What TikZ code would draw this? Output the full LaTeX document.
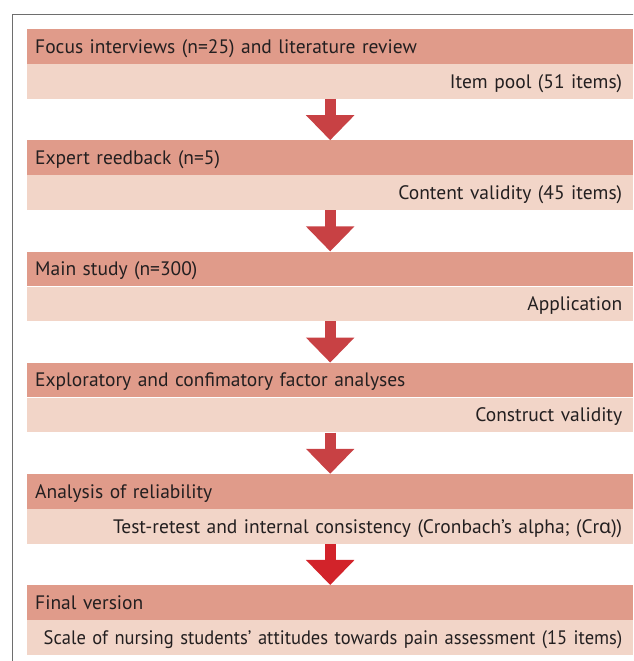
\documentclass[tikz,border=0pt]{standalone}
\usepackage{fontspec}
\setmainfont{PT Sans}
\newfontfamily\narrowfont[FakeStretch=0.95]{PT Sans}
\newfontfamily\grkfont{Noto Sans}
\usetikzlibrary{arrows.meta}
\definecolor{banddark}{HTML}{E09B8A}
\definecolor{bandlight}{HTML}{F2D5C8}
\definecolor{arrowred}{HTML}{C84144}
\definecolor{arrowbright}{HTML}{D2232A}
\definecolor{framegray}{HTML}{6E6E6E}
\definecolor{txt}{HTML}{231F20}
\tikzset{
  band/.style={anchor=north west, minimum height=34.6pt, inner ysep=0pt,
    text height=13.6pt, text depth=0pt,
    text=txt, font=\fontsize{19.5}{22}\selectfont},
  darkband/.style={band, fill=banddark, text width=590pt, inner xsep=8pt, align=left},
  lightband/.style={band, fill=bandlight, text width=584pt, inner xsep=11pt, align=right},
  bigarrow/.style={draw=arrowred, line width=11pt, line cap=butt,
    -{Triangle[width=47pt,length=25pt]}},
}
\begin{document}
\begin{tikzpicture}[x=1pt,y=1pt]
\useasboundingbox (0,0) rectangle (633,661);
\clip (0,0) rectangle (633,661);
\draw[framegray, line width=1.5pt] (12.5,646.5) rectangle (660,-20);
\node[darkband]  (d1) at (27,632)   {Focus interviews (n=25) and literature review};
\node[lightband] (l1) at (d1.south west) {Item pool (51 items)};
\node[darkband]  (d2) at (27,520.8) {Expert reedback (n=5)};
\node[lightband] (l2) at (d2.south west) {Content validity (45 items)};
\node[darkband]  (d3) at (27,409.6) {Main study (n=300)};
\node[lightband] (l3) at (d3.south west) {Application};
\node[darkband]  (d4) at (27,298.4) {Exploratory and confimatory factor analyses};
\node[lightband] (l4) at (d4.south west) {Construct validity};
\node[darkband]  (d5) at (27,187.2) {Analysis of reliability};
\node[lightband] (l5) at (d5.south west) {Test-retest and internal consistency (Cronbach’s alpha; (Cr{\grkfont α}))};
\node[darkband]  (d6) at (27,76)    {Final version};
\node[lightband] (l6) at (d6.south west) {\mbox{\narrowfont Scale of nursing students’ attitudes towards pain assessment (15 items)}};
\draw[bigarrow] (l1.south) -- (d2.north);
\draw[bigarrow] (l2.south) -- (d3.north);
\draw[bigarrow] (l3.south) -- (d4.north);
\draw[bigarrow] (l4.south) -- (d5.north);
\draw[bigarrow, draw=arrowbright] (l5.south) -- (d6.north);
\end{tikzpicture}
\end{document}
